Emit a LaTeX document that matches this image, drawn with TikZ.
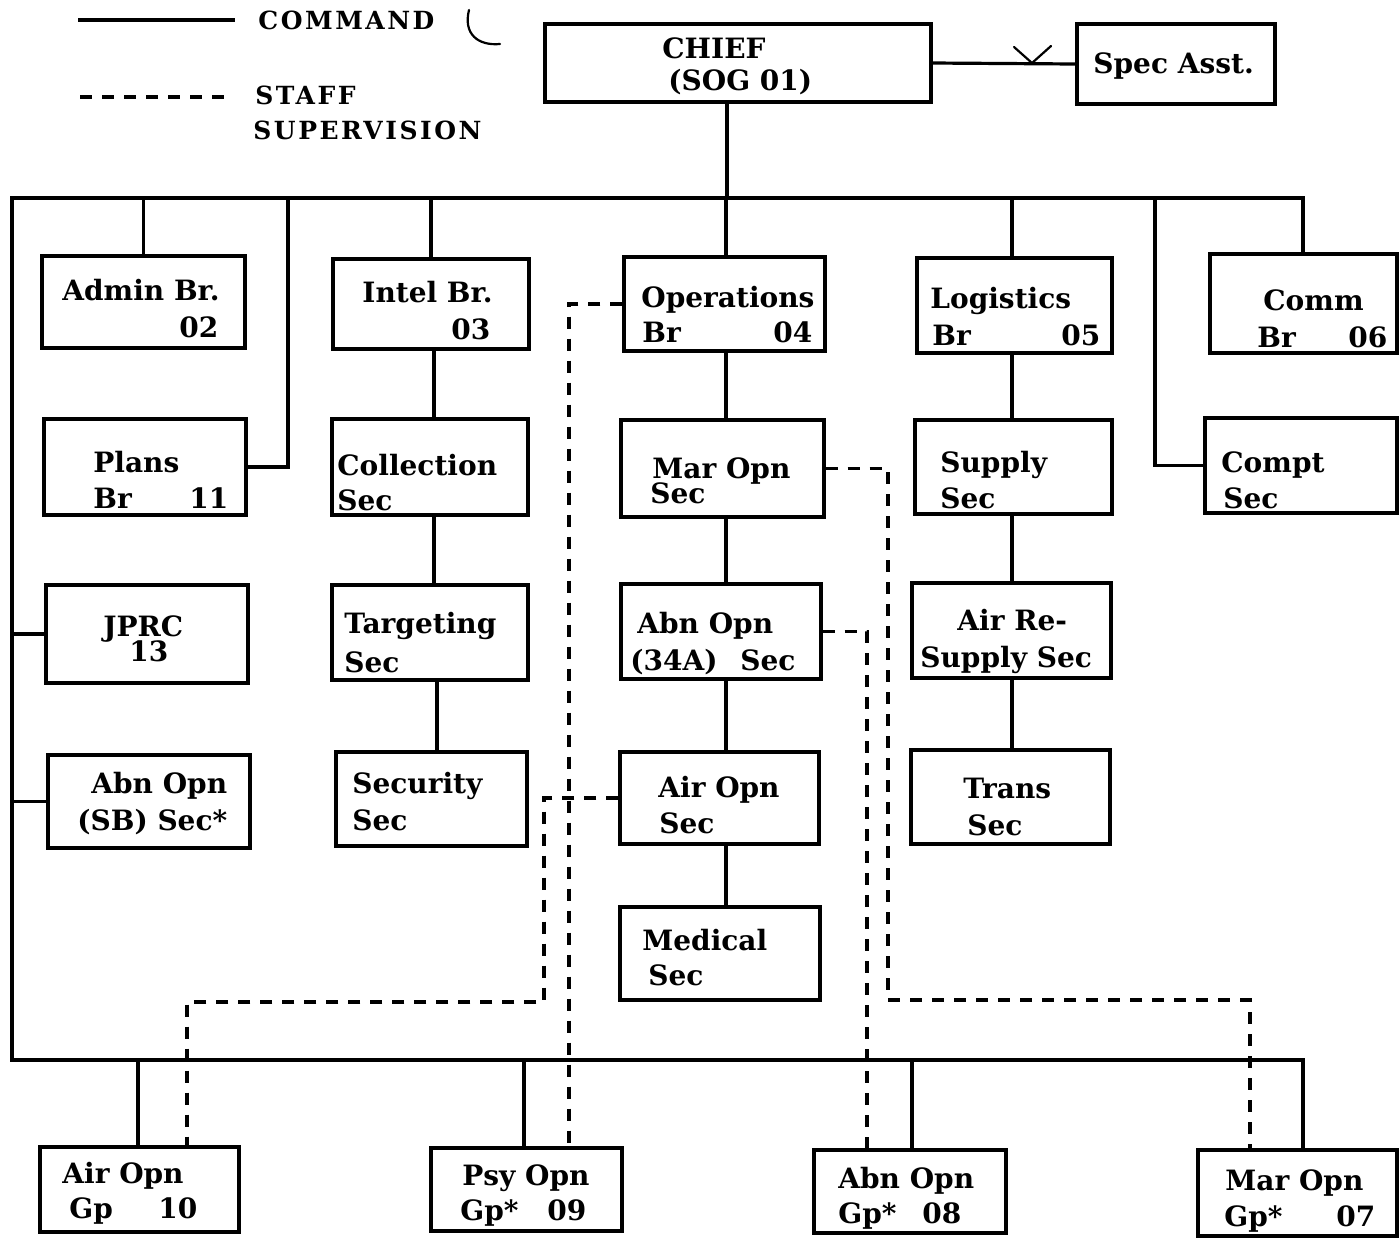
\documentclass[tikz,border=0pt]{standalone}
\usepackage{fontspec}
\setmainfont{DejaVu Serif}
\newfontfamily\legfont[LetterSpace=10]{DejaVu Serif}
\usetikzlibrary{fit}
\tikzset{
  box/.style={draw, line width=1.6pt, inner sep=0pt},
  lbl/.style={font=\bfseries\fontsize{14}{16}\selectfont, inner sep=0pt, anchor=base west},
  leg/.style={font=\legfont\bfseries\fontsize{12.5}{14}\selectfont, inner sep=0pt, anchor=base west},
  conn/.style={line width=1.6pt},
  stf/.style={line width=1.6pt, dash pattern=on 6pt off 5pt},
  handmark/.style={line width=1.1pt, line cap=round}
}
\begin{document}
\begin{tikzpicture}[x=0.5pt,y=-0.5pt]
\fill[white] (0,0) rectangle (1400,1239);
\useasboundingbox (0,0) rectangle (1400,1239);

% legend
\coordinate (lg1a) at (78,20); \coordinate (lg1b) at (235,20);
\coordinate (lg2a) at (80,97); \coordinate (lg2b) at (232,97);
\draw[conn] (lg1a) -- (lg1b);
\draw[stf] (lg2a) -- (lg2b);
\node[leg] (tcmd) at (258,29) {COMMAND};
\node[leg] (tstf) at (255,104) {STAFF};
\node[leg] (tsup) at (253,139) {SUPERVISION};
% handwritten marks
\draw[handmark] (469,10) .. controls (463,34) and (478,46) .. (500,44);
\draw[handmark] (1014,47) -- (1032,63) -- (1051,46);

% boxes
\node[box, fit={(545,24) (931,102)}] (chief) {};
\node[box, fit={(1077,24) (1275,104)}] (spec) {};
\node[box, fit={(42,256) (245,348)}] (admin) {};
\node[box, fit={(333,259) (529,349)}] (intel) {};
\node[box, fit={(624,257) (825,351)}] (ops) {};
\node[box, fit={(917,258) (1112,353)}] (logi) {};
\node[box, fit={(1210,254) (1397,353)}] (comm) {};
\node[box, fit={(44,419) (246,515)}] (plans) {};
\node[box, fit={(332,419) (528,515)}] (coll) {};
\node[box, fit={(621,420) (824,517)}] (mar) {};
\node[box, fit={(915,420) (1112,514)}] (supply) {};
\node[box, fit={(1205,418) (1397,513)}] (compt) {};
\node[box, fit={(46,585) (248,683)}] (jprc) {};
\node[box, fit={(332,585) (528,680)}] (targ) {};
\node[box, fit={(621,584) (821,679)}] (abnf) {};
\node[box, fit={(912,583) (1111,678)}] (airre) {};
\node[box, fit={(48,755) (250,848)}] (sb) {};
\node[box, fit={(336,752) (527,846)}] (secu) {};
\node[box, fit={(620,752) (819,844)}] (airsec) {};
\node[box, fit={(911,750) (1110,844)}] (trans) {};
\node[box, fit={(620,907) (820,1000)}] (med) {};
\node[box, fit={(40,1147) (239,1232)}] (air10) {};
\node[box, fit={(431,1148) (622,1231)}] (psy09) {};
\node[box, fit={(814,1150) (1006,1233)}] (abn08) {};
\node[box, fit={(1198,1150) (1397,1236)}] (mar07) {};

% texts
\node[lbl] (t-chief1) at (662,58) {CHIEF};
\node[lbl] (t-chief2) at (668,90) {(SOG 01)};
\node[lbl] (t-spec) at (1093,73) {Spec Asst.};
\node[lbl] (t-admin1) at (62,300) {Admin Br.};
\node[lbl] (t-admin2) at (179,337) {02};
\node[lbl] (t-intel1) at (362,302) {Intel Br.};
\node[lbl] (t-intel2) at (451,339) {03};
\node[lbl] (t-ops1) at (641,307) {Operations};
\node[lbl] (t-ops2) at (642,342) {Br};
\node[lbl] (t-ops3) at (773,342) {04};
\node[lbl] (t-logi1) at (930,308) {Logistics};
\node[lbl] (t-logi2) at (932,345) {Br};
\node[lbl] (t-logi3) at (1061,345) {05};
\node[lbl] (t-comm1) at (1263,310) {Comm};
\node[lbl] (t-comm2) at (1257,347) {Br};
\node[lbl] (t-comm3) at (1348,347) {06};
\node[lbl] (t-plans1) at (93,472) {Plans};
\node[lbl] (t-plans2) at (93,508) {Br};
\node[lbl] (t-plans3) at (189,508) {11};
\node[lbl] (t-coll1) at (337,475) {Collection};
\node[lbl] (t-coll2) at (337,510) {Sec};
\node[lbl] (t-mar1) at (652,478) {Mar Opn};
\node[lbl] (t-mar2) at (650,503) {Sec};
\node[lbl] (t-sup1) at (940,472) {Supply};
\node[lbl] (t-sup2) at (940,508) {Sec};
\node[lbl] (t-cpt1) at (1221,472) {Compt};
\node[lbl] (t-cpt2) at (1223,508) {Sec};
\node[lbl] (t-jprc1) at (103,636) {JPRC};
\node[lbl] (t-jprc2) at (129,661) {13};
\node[lbl] (t-targ1) at (344,633) {Targeting};
\node[lbl] (t-targ2) at (344,672) {Sec};
\node[lbl] (t-abnf1) at (637,633) {Abn Opn};
\node[lbl] (t-abnf2) at (630,670) {(34A)};
\node[lbl] (t-abnf3) at (740,670) {Sec};
\node[lbl] (t-airre1) at (957,630) {Air Re-};
\node[lbl] (t-airre2) at (920,667) {Supply Sec};
\node[lbl] (t-sb1) at (91,793) {Abn Opn};
\node[lbl] (t-sb2) at (77,830) {(SB) Sec*};
\node[lbl] (t-secu1) at (352,793) {Security};
\node[lbl] (t-secu2) at (352,830) {Sec};
\node[lbl] (t-airs1) at (658,797) {Air Opn};
\node[lbl] (t-airs2) at (659,833) {Sec};
\node[lbl] (t-trans1) at (963,798) {Trans};
\node[lbl] (t-trans2) at (967,835) {Sec};
\node[lbl] (t-med1) at (642,950) {Medical};
\node[lbl] (t-med2) at (648,985) {Sec};
\node[lbl] (t-a10a) at (62,1183) {Air Opn};
\node[lbl] (t-a10b) at (69,1218) {Gp};
\node[lbl] (t-a10c) at (158,1218) {10};
\node[lbl] (t-p09a) at (462,1185) {Psy Opn};
\node[lbl] (t-p09b) at (460,1220) {Gp*};
\node[lbl] (t-p09c) at (547,1220) {09};
\node[lbl] (t-a08a) at (838,1188) {Abn Opn};
\node[lbl] (t-a08b) at (838,1223) {Gp*};
\node[lbl] (t-a08c) at (922,1223) {08};
\node[lbl] (t-m07a) at (1225,1190) {Mar Opn};
\node[lbl] (t-m07b) at (1224,1226) {Gp*};
\node[lbl] (t-m07c) at (1336,1226) {07};

% bus coordinates
\coordinate (tl) at (12,198);
\coordinate (tr) at (1303,198);
\coordinate (bl) at (12,1060);
\coordinate (br) at (1303,1060);
\coordinate (xc) at (727,0);
\coordinate (xp) at (288,198);
\coordinate (xk) at (1155,198);
\coordinate (xi) at (434,0);
\coordinate (xs) at (437,0);
\coordinate (xo) at (726,0);
\coordinate (xl) at (1012,0);
\coordinate (xa10) at (138,0);
\coordinate (xp09) at (524,0);
\coordinate (xa08) at (912,0);

% command lines
\draw[conn] (comm.north -| tr) -- (tr) -- (tl) -- (bl) -- (br) -- (br |- mar07.north);
\draw[conn] (xc |- chief.south) -- (xc |- tl);
\draw[conn] (chief.east) -- (spec.west);
\draw[conn] (admin.north) -- (admin.north |- tl);
\draw[conn] (plans.east) -| (xp);
\draw[conn] (intel.north) -- (intel.north |- tl);
\draw[conn] (xo |- ops.north) -- (xo |- tl);
\draw[conn] (xl |- logi.north) -- (xl |- tl);
\draw[conn] (compt.west) -| (xk);
\draw[conn] (xi |- intel.south) -- (xi |- coll.north);
\draw[conn] (xi |- coll.south) -- (xi |- targ.north);
\draw[conn] (xs |- targ.south) -- (xs |- secu.north);
\draw[conn] (xo |- ops.south) -- (xo |- mar.north);
\draw[conn] (xo |- mar.south) -- (xo |- abnf.north);
\draw[conn] (xo |- abnf.south) -- (xo |- airsec.north);
\draw[conn] (xo |- airsec.south) -- (xo |- med.north);
\draw[conn] (xl |- logi.south) -- (xl |- supply.north);
\draw[conn] (xl |- supply.south) -- (xl |- airre.north);
\draw[conn] (xl |- airre.south) -- (xl |- trans.north);
\draw[conn] (jprc.west) -- (jprc.west -| tl);
\draw[conn] (sb.west) -- (sb.west -| tl);
\draw[conn] (xa10 |- bl) -- (xa10 |- air10.north);
\draw[conn] (xp09 |- bl) -- (xp09 |- psy09.north);
\draw[conn] (xa08 |- bl) -- (xa08 |- abn08.north);

% staff supervision lines
\coordinate (d1) at (569,0);
\coordinate (d2a) at (544,1002);
\coordinate (d2b) at (187,0);
\coordinate (d3a) at (888,1000);
\coordinate (d3b) at (1250,0);
\coordinate (d4) at (867,0);
\draw[stf] (ops.west) -| (d1 |- psy09.north);
\draw[stf] (airsec.west) -| (d2a) -| (d2b |- air10.north);
\draw[stf] (mar.east) -| (d3a) -| (d3b |- mar07.north);
\draw[stf] (abnf.east) -| (d4 |- abn08.north);
\end{tikzpicture}
\end{document}
